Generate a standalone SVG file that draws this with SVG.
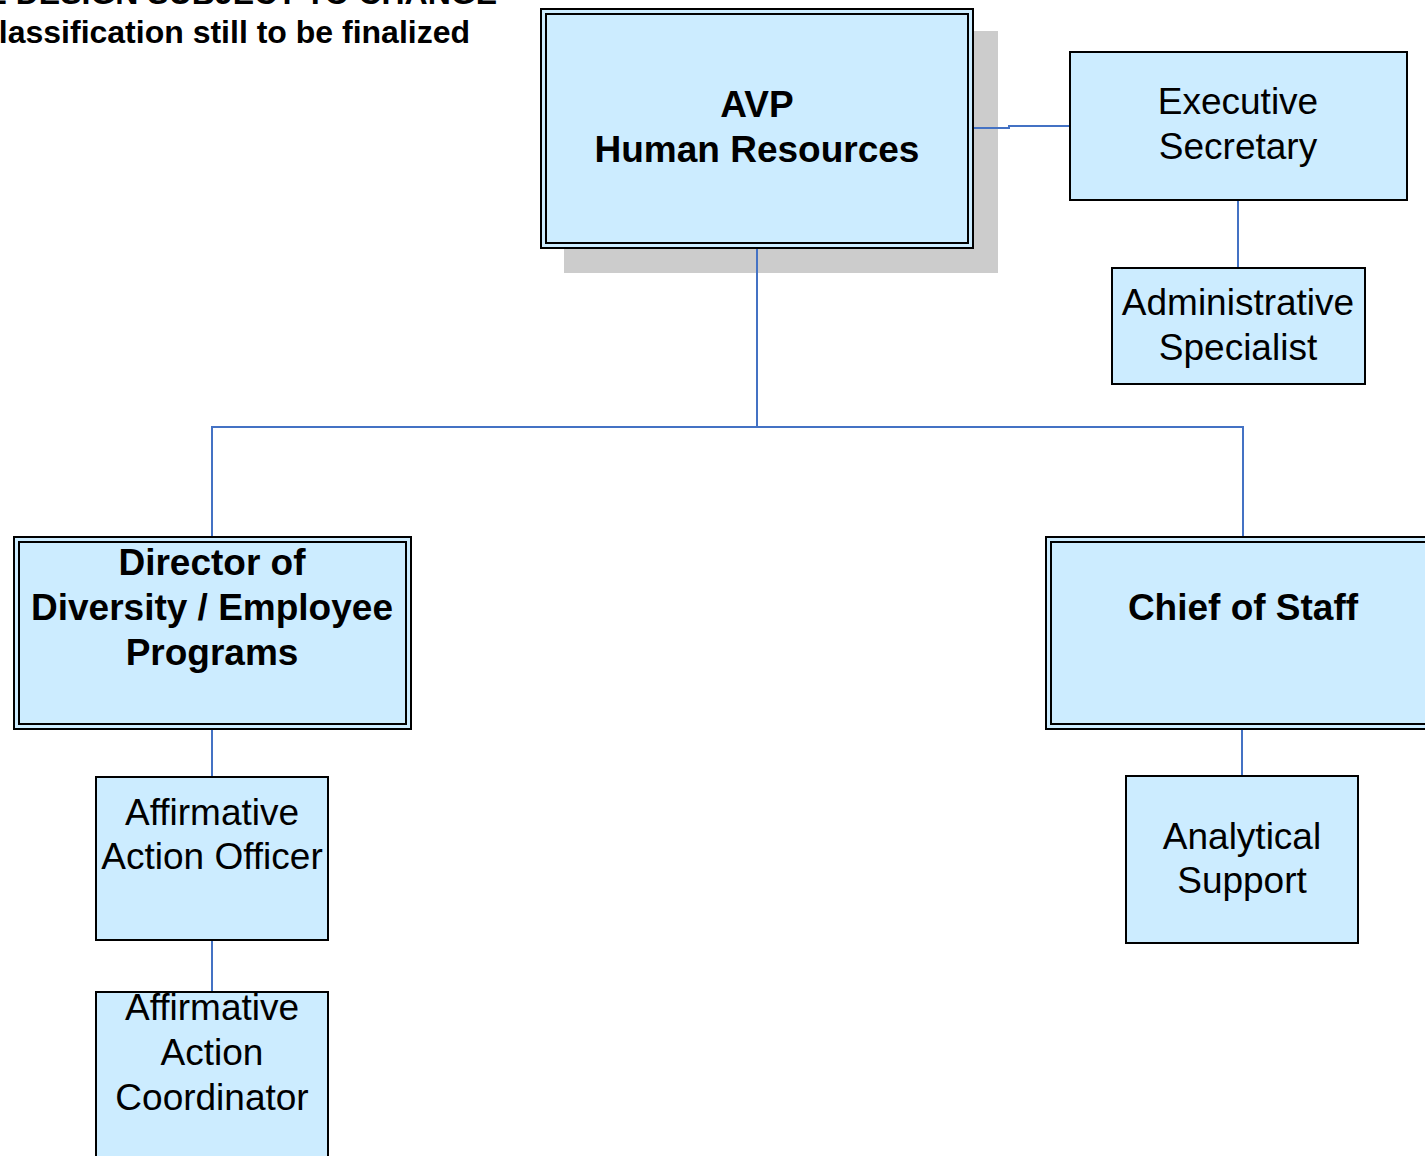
<svg xmlns="http://www.w3.org/2000/svg" width="1425" height="1156" viewBox="0 0 1425 1156">
<style>
.box{fill:#CCECFF;stroke:#000;stroke-width:2}
.inner{fill:none;stroke:#000;stroke-width:2}
.shadow{fill:#CCCCCC}
.t{font-family:"Liberation Sans",Arial,sans-serif;font-size:37px;fill:#000;text-anchor:middle}
.b{font-weight:bold}
.note{font-family:"Liberation Sans",Arial,sans-serif;font-size:32px;font-weight:bold;fill:#000;text-anchor:end}
.conn{fill:none;stroke:#4472C4;stroke-width:2}
</style>
<rect width="1425" height="1156" fill="#fff"/>
<g id="note">
<text class="note" x="497" y="4">E DESIGN SUBJECT TO CHANGE</text>
<text class="note" x="470" y="43">lassification still to be finalized</text>
</g>
<g id="avp">
<rect class="shadow" x="564" y="31" width="434" height="242"/>
<rect class="box" x="541" y="9" width="432" height="239"/>
<rect class="inner" x="546" y="14" width="422" height="229"/>
<text class="t b" x="757" y="117">AVP</text>
<text class="t b" x="757" y="162">Human Resources</text>
</g>
<g id="exec-secretary">
<rect class="box" x="1070" y="52" width="337" height="148"/>
<text class="t" x="1238" y="114">Executive</text>
<text class="t" x="1238" y="159">Secretary</text>
</g>
<g id="admin-specialist">
<rect class="box" x="1112" y="268" width="253" height="116"/>
<text class="t" x="1238" y="315">Administrative</text>
<text class="t" x="1238" y="360">Specialist</text>
</g>
<g id="director">
<rect class="box" x="14" y="537" width="397" height="192"/>
<rect class="inner" x="19" y="542" width="387" height="182"/>
<text class="t b" x="212" y="575">Director of</text>
<text class="t b" x="212" y="620">Diversity / Employee</text>
<text class="t b" x="212" y="665">Programs</text>
</g>
<g id="chief-of-staff">
<rect class="box" x="1046" y="537" width="394" height="192"/>
<rect class="inner" x="1051" y="542" width="384" height="182"/>
<text class="t b" x="1243" y="620">Chief of Staff</text>
</g>
<g id="aa-officer">
<rect class="box" x="96" y="777" width="232" height="163"/>
<text class="t" x="212" y="825">Affirmative</text>
<text class="t" x="212" y="869">Action Officer</text>
</g>
<g id="aa-coordinator">
<rect class="box" x="96" y="992" width="232" height="180"/>
<text class="t" x="212" y="1020">Affirmative</text>
<text class="t" x="212" y="1065">Action</text>
<text class="t" x="212" y="1110">Coordinator</text>
</g>
<g id="analytical-support">
<rect class="box" x="1126" y="776" width="232" height="167"/>
<text class="t" x="1242" y="849">Analytical</text>
<text class="t" x="1242" y="893">Support</text>
</g>
<g id="connectors">
<polyline class="conn" points="974,128 1009,128 1009,126 1069,126"/>
<line class="conn" x1="1238" y1="201" x2="1238" y2="267"/>
<line class="conn" x1="757" y1="249" x2="757" y2="427"/>
<polyline class="conn" points="212,536 212,427 1243,427 1243,536"/>
<line class="conn" x1="212" y1="730" x2="212" y2="776"/>
<line class="conn" x1="212" y1="941" x2="212" y2="991"/>
<line class="conn" x1="1242" y1="730" x2="1242" y2="775"/>
</g>
</svg>
